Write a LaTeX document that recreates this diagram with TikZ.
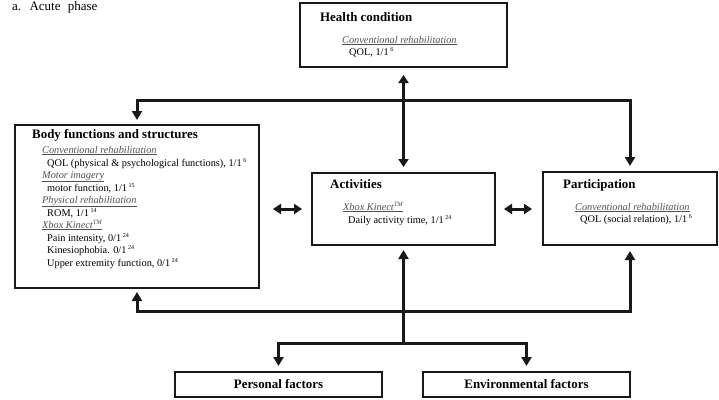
\documentclass[tikz,border=0pt]{standalone}
\usepackage{fontspec}
\setmainfont{Liberation Serif}
\usetikzlibrary{arrows.meta}

\definecolor{subgray}{RGB}{80,80,80}
\definecolor{inkblack}{RGB}{25,25,25}

\newcommand{\hdtext}[1]{{\fontsize{12.9}{14}\selectfont\bfseries #1}}
\newcommand{\trtname}[1]{{\color{subgray}\underline{\textit{#1}}}}
\newcommand{\refn}[1]{\,\raisebox{3.6pt}{\fontsize{6}{6}\selectfont #1}}
\newcommand{\tmark}{\raisebox{3.6pt}{\fontsize{6.5}{6.5}\selectfont\itshape TM}}

\tikzset{
  box/.style={draw=inkblack, line width=2pt, inner sep=0pt},
  arrowline/.style={draw=inkblack, line width=3pt, -{Triangle[length=9pt,width=10pt]}},
  dblarrow/.style={draw=inkblack, line width=3pt, {Triangle[length=8pt,width=10pt]}-{Triangle[length=8pt,width=10pt]}},
  txt/.style={anchor=base west, inner sep=0pt, font=\fontsize{10.3}{12}\selectfont}
}

\begin{document}
\begin{tikzpicture}[x=1pt,y=1pt,yscale=-1,xscale=1]
\useasboundingbox (0,0) rectangle (719,399);

% Title
\node [txt, font=\fontsize{13}{14}\selectfont] (title) at (12,10) {a.\hspace{4pt} Acute\hspace{4pt} phase};

%Shape: Boxes
\node [box, minimum width=207pt, minimum height=64pt] (hc) at (403.5,35) {};
\node [box, minimum width=244pt, minimum height=163pt] (body) at (137,206.5) {};
\node [box, minimum width=183pt, minimum height=72pt] (act) at (403.5,209) {};
\node [box, minimum width=174pt, minimum height=73pt] (part) at (630,208.5) {};
\node [box, minimum width=207pt, minimum height=25pt, font=\fontsize{12.9}{14}\selectfont\bfseries] (pers) at (278.5,384.5) {Personal factors};
\node [box, minimum width=207pt, minimum height=25pt, font=\fontsize{12.9}{14}\selectfont\bfseries] (env) at (526.5,384.5) {Environmental factors};

% Text Node: health condition
\node [txt] (hc0) at (320,21) {\hdtext{Health condition}};
\node [txt] (hc1) at (342,43) {\trtname{Conventional rehabilitation}};
\node [txt] (hc2) at (349,55) {QOL, 1/1\refn{6}};

% Text Node: body functions and structures
\node [txt] (bf0) at (32,138) {\hdtext{Body functions and structures}};
\node [txt] (bf1) at (42,153) {\trtname{Conventional rehabilitation}};
\node [txt] (bf2) at (47,166) {QOL (physical \& psychological functions), 1/1\refn{6}};
\node [txt] (bf3) at (42,178) {\trtname{Motor imagery}};
\node [txt] (bf4) at (47,191) {motor function, 1/1\refn{15}};
\node [txt] (bf5) at (42,203) {\trtname{Physical rehabilitation}};
\node [txt] (bf6) at (47,216) {ROM, 1/1\refn{14}};
\node [txt] (bf7) at (42,228) {\trtname{Xbox Kinect\tmark}};
\node [txt] (bf8) at (47,241) {Pain intensity, 0/1\refn{24}};
\node [txt] (bf9) at (47,253) {Kinesiophobia. 0/1\refn{24}};
\node [txt] (bf10) at (47,266) {Upper extremity function, 0/1\refn{24}};

% Text Node: activities
\node [txt] (ac0) at (330,188) {\hdtext{Activities}};
\node [txt] (ac1) at (343,210) {\trtname{Xbox Kinect\tmark}};
\node [txt] (ac2) at (348,223) {Daily activity time, 1/1\refn{24}};

% Text Node: participation
\node [txt] (pa0) at (563,188) {\hdtext{Participation}};
\node [txt] (pa1) at (575,210) {\trtname{Conventional rehabilitation}};
\node [txt] (pa2) at (580,222) {QOL (social relation), 1/1\refn{6}};

% Junctions
\coordinate (tj) at (403.5,100);
\coordinate (bj) at (403.5,311);
\coordinate (fj) at (403.5,343);

%Straight Lines: top frame
\draw [arrowline, shorten >=4pt] (tj) -| (body.north);
\draw [arrowline, shorten >=5pt] (tj) -| (part.north);
\draw [dblarrow, shorten <=7pt, shorten >=5pt] (hc.south) -- (act.north);

%Straight Lines: bottom frame
\draw [arrowline, shorten >=3pt] (bj) -| (body.south);
\draw [arrowline, shorten >=5pt] (bj) -| (part.south);
\draw [arrowline, shorten >=4pt] (fj) -- (act.south);
\draw [arrowline, shorten >=5pt] (fj) -| (pers.north);
\draw [arrowline, shorten >=5pt] (fj) -| (env.north);

%Straight Lines: side arrows
\draw [dblarrow, shorten <=13pt, shorten >=9pt] (body.east |- act.west) -- (act.west);
\draw [dblarrow, shorten <=8pt, shorten >=10pt] (act.east) -- (part.west |- act.east);

\end{tikzpicture}
\end{document}
